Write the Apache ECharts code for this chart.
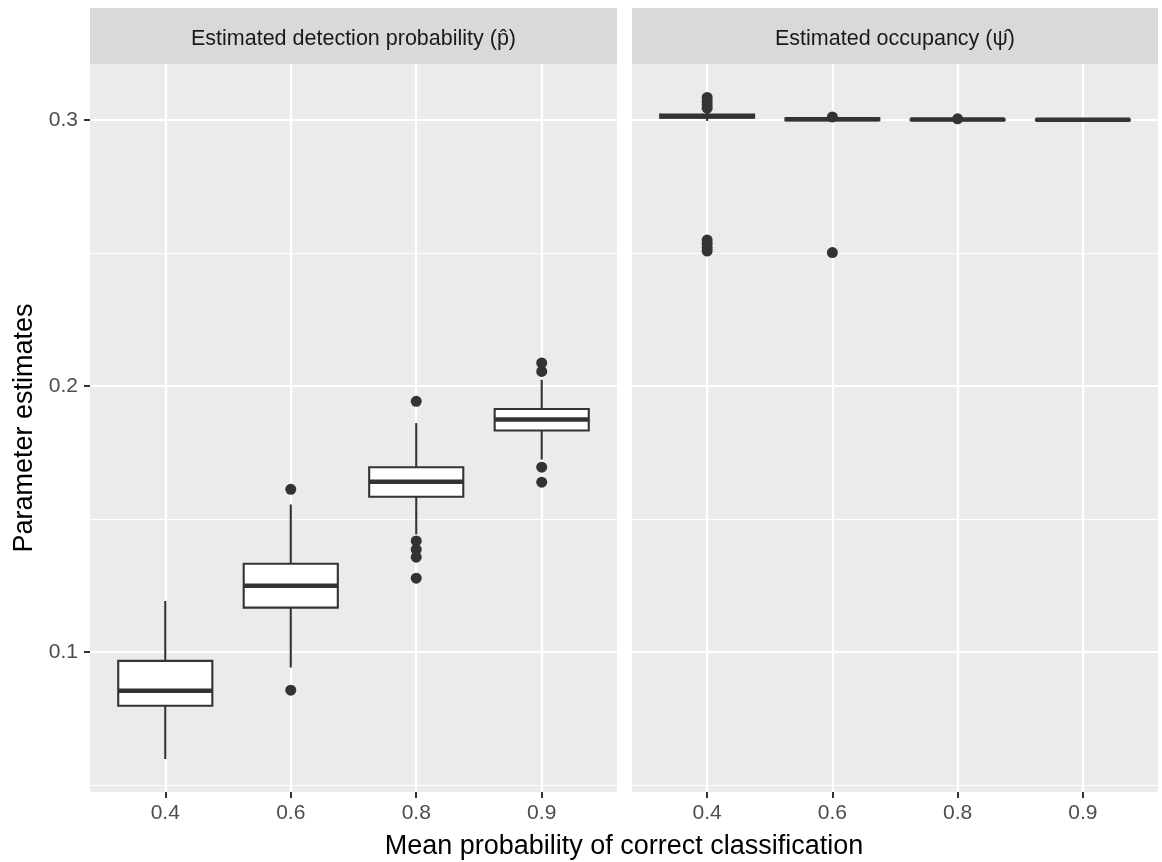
<!DOCTYPE html>
<html>
<head>
<meta charset="utf-8">
<script src="https://cdn.jsdelivr.net/npm/echarts@6/dist/echarts.min.js"></script>
<style>
html,body{margin:0;padding:0;background:#fff;}
#chart{width:1162px;height:862px;}
</style>
</head>
<body>
<div id="chart"></div>
<script>
// ---------------- data ----------------
const categories = ['0.4', '0.6', '0.8', '0.9'];
const xPositions = [1, 2, 3, 4];
const yMajorTicks = [0.1, 0.2, 0.3];
const yMinorTicks = [0.05, 0.15, 0.25];
const facetTitles = ['Estimated detection probability (p\u0302)', 'Estimated occupancy (\u03C8\u0302)'];

// Estimated detection probability (p-hat)
const detMin    = [0.0597, 0.0941, 0.1442, 0.1723];
const detQ1     = [0.0797, 0.1166, 0.1583, 0.1832];
const detMedian = [0.0854, 0.1248, 0.1639, 0.1873];
const detQ3     = [0.0966, 0.1331, 0.1694, 0.1913];
const detMax    = [0.1191, 0.1554, 0.1860, 0.2023];
const detOutliers = [
  [],
  [0.1611, 0.0856],
  [0.1942, 0.1417, 0.1385, 0.1356, 0.1277],
  [0.2086, 0.2054, 0.1694, 0.1638]
];

// Estimated occupancy (psi-hat)
const occMin    = [0.2996, 0.2995, 0.2998, 0.2999];
const occQ1     = [0.3008, 0.2999, 0.2999, 0.2999];
const occMedian = [0.3014, 0.3002, 0.3001, 0.3000];
const occQ3     = [0.3020, 0.3006, 0.3002, 0.3001];
const occMax    = [0.3034, 0.3008, 0.3003, 0.3001];
const occOutliers = [
  [0.3084, 0.3070, 0.3056, 0.3044, 0.2548, 0.2535, 0.2520, 0.2507],
  [0.3011, 0.2501],
  [0.3004],
  []
];

// ---------------- layout / style ----------------
const Y_MIN = 0.0473, Y_MAX = 0.3210;
const X_MIN = 0.4, X_MAX = 4.6;
const BOX_WIDTH = 0.75;
const PANEL_TOP = 64, PANEL_H = 728, STRIP_TOP = 8, STRIP_H = 56;
const PANELS = [{left: 90, width: 527}, {left: 632, width: 526}];
const FONT = '"Liberation Sans", Arial, Helvetica, sans-serif';
const INK = '#333333';

function buildBoxes(mins, q1s, meds, q3s, maxs) {
  return xPositions.map((x, i) => [x, mins[i], q1s[i], meds[i], q3s[i], maxs[i]]);
}
function buildOutliers(list) {
  const out = [];
  list.forEach((vals, i) => vals.forEach(v => out.push([xPositions[i], v])));
  return out;
}

function renderBox(params, api) {
  const x = api.value(0);
  const lo = api.coord([x, api.value(1)]);
  const q1 = api.coord([x, api.value(2)]);
  const md = api.coord([x, api.value(3)]);
  const q3 = api.coord([x, api.value(4)]);
  const hi = api.coord([x, api.value(5)]);
  const half = api.size([BOX_WIDTH, 0])[0] / 2;
  return {
    type: 'group',
    children: [
      {type: 'line', shape: {x1: hi[0], y1: hi[1], x2: q3[0], y2: q3[1]}, style: {stroke: INK, lineWidth: 2.1}},
      {type: 'line', shape: {x1: q1[0], y1: q1[1], x2: lo[0], y2: lo[1]}, style: {stroke: INK, lineWidth: 2.1}},
      {type: 'rect', shape: {x: q3[0] - half, y: q3[1], width: 2 * half, height: q1[1] - q3[1]},
       style: {fill: '#FFFFFF', stroke: INK, lineWidth: 2.1}},
      {type: 'line', shape: {x1: md[0] - half, y1: md[1], x2: md[0] + half, y2: md[1]},
       style: {stroke: INK, lineWidth: 4.5}}
    ]
  };
}

function xAxisFor(gi) {
  return {
    type: 'value', gridIndex: gi, min: X_MIN, max: X_MAX,
    axisLine: {show: false, onZero: false},
    axisTick: {show: true, customValues: xPositions, length: 6, lineStyle: {color: INK, width: 2}},
    axisLabel: {show: true, customValues: xPositions, formatter: v => categories[Math.round(v) - 1],
      color: '#4D4D4D', fontSize: 21, fontFamily: FONT, margin: 11},
    splitLine: {show: true, lineStyle: {color: '#FFFFFF', width: 2.2}}
  };
}
function yMajorFor(gi) {
  const ax = {
    type: 'value', gridIndex: gi, min: Y_MIN, max: Y_MAX,
    axisLine: {show: false, onZero: false},
    axisTick: {show: gi === 0, customValues: yMajorTicks, length: 6, lineStyle: {color: INK, width: 2}},
    axisLabel: {show: gi === 0, customValues: yMajorTicks, formatter: v => v.toFixed(1),
      color: '#4D4D4D', fontSize: 21, fontFamily: FONT, margin: 12},
    splitLine: {show: true, lineStyle: {color: '#FFFFFF', width: 2.2}}
  };
  if (gi === 0) {
    ax.name = 'Parameter estimates';
    ax.nameLocation = 'middle';
    ax.nameGap = 52;
    ax.nameTextStyle = {fontSize: 27, color: '#000000', fontFamily: FONT};
  }
  return ax;
}
function yMinorFor(gi) {
  return {
    type: 'value', gridIndex: gi, min: Y_MIN, max: Y_MAX, position: 'left',
    axisLine: {show: false, onZero: false},
    axisTick: {show: false, customValues: yMinorTicks},
    axisLabel: {show: false, customValues: yMinorTicks},
    splitLine: {show: true, lineStyle: {color: '#FFFFFF', width: 1.1}}
  };
}

const graphics = [];
PANELS.forEach((p, i) => {
  graphics.push({type: 'rect', left: p.left, top: STRIP_TOP, silent: true,
    shape: {width: p.width, height: STRIP_H}, style: {fill: '#D9D9D9'}});
  graphics.push({type: 'text', x: p.left + p.width / 2, y: STRIP_TOP + 31.5, silent: true,
    style: {text: facetTitles[i], fill: '#1A1A1A', font: '21.5px ' + FONT, textAlign: 'center', textVerticalAlign: 'middle'}});
});
graphics.push({type: 'text', x: (PANELS[0].left + PANELS[1].left + PANELS[1].width) / 2, y: 847, silent: true,
  style: {text: 'Mean probability of correct classification', fill: '#000000', font: '27px ' + FONT,
    textAlign: 'center', textVerticalAlign: 'middle'}});

const option = {
  animation: false,
  backgroundColor: '#FFFFFF',
  grid: PANELS.map(p => ({left: p.left, top: PANEL_TOP, width: p.width, height: PANEL_H,
    show: true, backgroundColor: '#EBEBEB', borderWidth: 0, containLabel: false})),
  xAxis: [xAxisFor(0), xAxisFor(1)],
  yAxis: [yMajorFor(0), yMajorFor(1), yMinorFor(0), yMinorFor(1)],
  graphic: graphics,
  series: [
    {type: 'custom', name: 'detection', xAxisIndex: 0, yAxisIndex: 0, renderItem: renderBox,
     encode: {x: 0, y: [1, 2, 3, 4, 5]}, z: 3,
     data: buildBoxes(detMin, detQ1, detMedian, detQ3, detMax)},
    {type: 'scatter', name: 'detection outliers', xAxisIndex: 0, yAxisIndex: 0, symbol: 'circle', symbolSize: 11,
     itemStyle: {color: INK, opacity: 1}, z: 4, data: buildOutliers(detOutliers)},
    {type: 'custom', name: 'occupancy', xAxisIndex: 1, yAxisIndex: 1, renderItem: renderBox,
     encode: {x: 0, y: [1, 2, 3, 4, 5]}, z: 3,
     data: buildBoxes(occMin, occQ1, occMedian, occQ3, occMax)},
    {type: 'scatter', name: 'occupancy outliers', xAxisIndex: 1, yAxisIndex: 1, symbol: 'circle', symbolSize: 11,
     itemStyle: {color: INK, opacity: 1}, z: 4, data: buildOutliers(occOutliers)}
  ]
};

const chart = echarts.init(document.getElementById('chart'), null, {renderer: 'canvas'});
chart.setOption(option);
</script>
</body>
</html>
